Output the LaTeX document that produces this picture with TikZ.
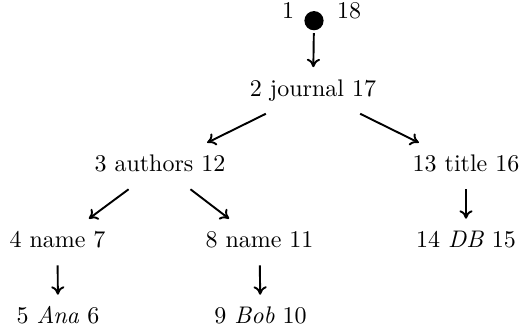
\documentclass[tikz,border=0pt]{standalone}
\usetikzlibrary{arrows.meta}
\begin{document}
\begin{tikzpicture}[x=0.41667pt,y=-0.41667pt,
  lbl/.style={inner xsep=2pt, inner ysep=5pt, text height=7pt, text depth=2pt, anchor=base},
  num/.style={inner sep=0pt, anchor=base},
  arr/.style={-{To[length=3.5pt,width=5.5pt]}, line width=0.8pt}]
\useasboundingbox (0,0) rectangle (520,333);
% root
\node[circle, fill=black, minimum size=8pt, inner sep=0pt] (r) at (314,20.7) {};
\node[num] (r1) at (288,18.3) {1};
\node[num] (r2) at (349,18.3) {18};
% level 1
\node[lbl] (j) at (313,96.5) {2 journal 17};
% level 2
\node[lbl] (a) at (160,172) {3 authors 12};
\node[lbl] (t) at (466,172) {13 title 16};
% level 3
\node[lbl] (n1) at (57.5,248) {4 name 7};
\node[lbl] (n2) at (259.5,248) {8 name 11};
\node[lbl] (db) at (466,248) {14 \textit{DB} 15};
% level 4
\node[lbl] (ana) at (58,324) {5 \textit{Ana} 6};
\node[lbl] (bob) at (260.5,324) {9 \textit{Bob} 10};
% edges
\draw[arr, shorten <=1pt] (r) -- (j);
\draw[arr] (j) -- (a);
\draw[arr] (j) -- (t);
\draw[arr] (a) -- (n1);
\draw[arr] (a) -- (n2);
\draw[arr] (t) -- (db);
\draw[arr] (n1) -- (ana);
\draw[arr] (n2) -- (bob);
\end{tikzpicture}
\end{document}
